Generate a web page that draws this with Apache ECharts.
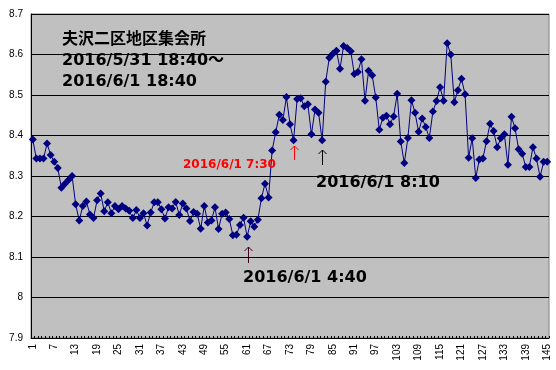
<!DOCTYPE html>
<html>
<head>
<meta charset="utf-8">
<script src="https://cdn.jsdelivr.net/npm/echarts@6/dist/echarts.min.js"></script>
<style>html,body{margin:0;padding:0;background:#fff;}#c{width:556px;height:370px;}</style>
</head>
<body>
<div id="c"></div>
<script>
var values = [
8.39,8.343,8.343,8.343,8.38,8.352,8.335,8.32,8.271,8.281,
8.29,8.30,8.23,8.19,8.226,8.237,8.205,8.196,8.24,8.257,
8.213,8.235,8.208,8.226,8.218,8.226,8.22,8.214,8.196,8.216,
8.196,8.208,8.178,8.21,8.235,8.235,8.218,8.195,8.223,8.22,
8.236,8.204,8.232,8.22,8.189,8.211,8.207,8.17,8.226,8.185,
8.19,8.223,8.169,8.207,8.21,8.194,8.154,8.155,8.179,8.197,
8.15,8.188,8.175,8.192,8.245,8.281,8.247,8.363,8.408,8.451,
8.438,8.495,8.428,8.388,8.49,8.492,8.472,8.477,8.403,8.464,
8.456,8.388,8.533,8.592,8.602,8.609,8.565,8.621,8.616,8.608,
8.552,8.557,8.588,8.486,8.56,8.549,8.494,8.414,8.444,8.449,
8.428,8.447,8.503,8.385,8.332,8.394,8.487,8.456,8.409,8.442,
8.421,8.394,8.459,8.485,8.519,8.486,8.628,8.60,8.482,8.512,
8.54,8.502,8.345,8.393,8.295,8.341,8.343,8.386,8.429,8.411,
8.371,8.393,8.403,8.328,8.446,8.418,8.366,8.355,8.322,8.322,
8.371,8.343,8.298,8.335,8.335
];
var categories = [];
for (var i = 1; i <= values.length; i++) categories.push(String(i));
var titleLines = ["夫沢二区地区集会所", "2016/5/31 18:40～", "2016/6/1 18:40"];
var notes = ["2016/6/1 7:30", "2016/6/1 8:10", "2016/6/1 4:40"];

var chart = echarts.init(document.getElementById('c'), null, {renderer: 'canvas'});
function txt(x, y, s, size, color) {
  return {type: 'text', x: x, y: y, z: 100,
    style: {text: s, fill: color, verticalAlign: 'middle', align: 'left',
      font: 'bold ' + size + 'px "DejaVu Sans", "Noto Sans CJK JP", sans-serif'}};
}
function arrow(x, y1, y2, color) {
  return {type: 'group', z: 100, children: [
    {type: 'line', shape: {x1: x, y1: y1, x2: x, y2: y2}, style: {stroke: color, lineWidth: 1}},
    {type: 'polyline', shape: {points: [[x - 4, y1 + 4], [x, y1], [x + 4, y1 + 4]]}, style: {stroke: color, lineWidth: 1, fill: null}}
  ]};
}
chart.setOption({
  animation: false,
  backgroundColor: '#ffffff',
  grid: {left: 31, right: 7, top: 14, bottom: 32, show: true, backgroundColor: '#c0c0c0', borderColor: '#808080', borderWidth: 1},
  xAxis: {
    type: 'category', data: categories, boundaryGap: true,
    axisLine: {lineStyle: {color: '#000', width: 1}},
    axisTick: {show: true, inside: true, length: 2, interval: 0, lineStyle: {color: '#000'}},
    axisLabel: {interval: 5, rotate: 90, fontSize: 10, color: '#000', fontFamily: 'Liberation Sans, Arial, sans-serif', margin: 6},
    splitLine: {show: false}
  },
  yAxis: {
    type: 'value', min: 7.9, max: 8.7, interval: 0.1,
    axisLine: {show: true, lineStyle: {color: '#000'}},
    axisTick: {show: false},
    axisLabel: {fontSize: 10, color: '#000', fontFamily: 'Liberation Sans, Arial, sans-serif', margin: 8,
      formatter: function (v) { return String(Math.round(v * 10) / 10); }},
    splitLine: {show: true, lineStyle: {color: '#000', width: 1}}
  },
  series: [{
    type: 'line', data: values, symbol: 'diamond', symbolSize: 8, showAllSymbol: true,
    lineStyle: {color: '#000080', width: 1}, itemStyle: {color: '#000080'}
  }],
  graphic: [
    txt(62, 40, titleLines[0], 16, '#000'),
    txt(62, 61, titleLines[1], 16, '#000'),
    txt(62, 82, titleLines[2], 16, '#000'),
    txt(183, 165, notes[0], 12, '#ff0000'),
    arrow(294.5, 146, 160, '#ff0000'),
    txt(316, 183, notes[1], 16, '#000'),
    arrow(322.5, 150, 165, '#000'),
    txt(243, 278, notes[2], 16, '#000'),
    arrow(248.5, 247, 263, '#400020')
  ]
});
</script>
</body>
</html>
